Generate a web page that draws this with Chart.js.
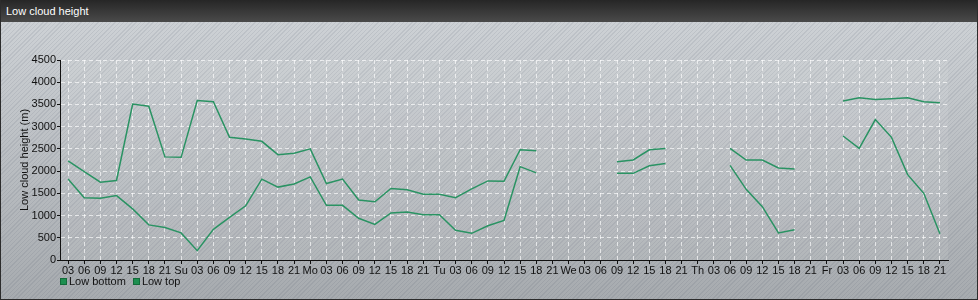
<!DOCTYPE html>
<html>
<head>
<meta charset="utf-8">
<script src="https://cdn.jsdelivr.net/npm/chart.js@4.4.1/dist/chart.umd.min.js"></script>
<style>
  html, body { margin: 0; padding: 0; }
  body { width: 978px; height: 300px; overflow: hidden; font-family: "Liberation Sans", Arial, sans-serif; }
  #frame {
    position: relative; width: 976px; height: 299px;
    border: 1px solid #2c2c2c; border-top: none;
    background:
      repeating-linear-gradient(135deg, rgba(60,70,90,0.10) 0 1px, rgba(0,0,0,0) 1px 3px),
      linear-gradient(#d0d4d8, #a7abaf);
  }
  #titlebar {
    position: absolute; left: 0; top: 0; width: 976px; height: 22px;
    background: linear-gradient(#262626, #4a4a4a);
    color: #fff; font-size: 11px; line-height: 22px; padding-left: 5px; box-sizing: border-box;
  }
  #wrap { position: absolute; left: -1px; top: 22px; width: 978px; height: 278px; }
  #legend { position: absolute; left: 59px; top: 275px; font-size: 11px; color: #111; }
  #legend span.item { margin-right: 7px; }
  #legend span.sw {
    display: inline-block; width: 5px; height: 5px; background: #1d8f50;
    border: 1px solid #136b3a; margin-right: 2px; vertical-align: 0px;
  }
</style>
</head>
<body>
<div id="frame">
  <div id="titlebar">Low cloud height</div>
  <div id="wrap"><canvas id="chartCloud" width="978" height="278"></canvas></div>
  <div id="legend"></div>
</div>
<script>
// three-hourly labels, Sat 03 .. Fri 21
const HOUR_LABELS = [
  "03","06","09","12","15","18","21",
  "Su","03","06","09","12","15","18","21",
  "Mo","03","06","09","12","15","18","21",
  "Tu","03","06","09","12","15","18","21",
  "We","03","06","09","12","15","18","21",
  "Th","03","06","09","12","15","18","21",
  "Fr","03","06","09","12","15","18","21"
];

const LOW_BOTTOM = [
  1820, 1400, 1390, 1450, 1150, 790, 730,
  610, 210, 690, 960, 1220, 1820, 1640, 1710,
  1870, 1230, 1230, 940, 800, 1060, 1080, 1020,
  1020, 670, 600, 770, 890, 2100, 1960, null,
  null, null, null, 1950, 1950, 2120, 2170, null,
  null, null, 2130, 1590, 1200, 610, 680, null,
  null, 2790, 2510, 3160, 2760, 1920, 1500, 590
];

const LOW_TOP = [
  2230, 1990, 1750, 1790, 3510, 3460, 2320,
  2310, 3590, 3560, 2760, 2720, 2670, 2370, 2400,
  2500, 1720, 1820, 1350, 1310, 1610, 1580, 1480,
  1480, 1400, 1600, 1780, 1770, 2480, 2460, null,
  null, null, null, 2210, 2250, 2480, 2510, null,
  null, null, 2510, 2250, 2250, 2070, 2050, null,
  null, 3580, 3650, 3610, 3630, 3650, 3560, 3540
];

const SERIES_NAMES = ["Low bottom", "Low top"];
const LINE_GREEN = "#2a9363";
const GRID_WHITE = "rgba(255,255,255,0.65)";
const FONT = "'Liberation Sans', Arial, sans-serif";

// lighter plot background
const plotShade = {
  id: "plotShade",
  beforeDraw(chart) {
    const a = chart.chartArea, c = chart.ctx;
    c.save();
    c.fillStyle = "rgba(255,255,255,0.08)";
    c.fillRect(a.left, a.top, a.right - a.left, a.bottom - a.top);
    c.restore();
  }
};

const ctx = document.getElementById("chartCloud");
new Chart(ctx, {
  type: "line",
  data: {
    labels: HOUR_LABELS,
    datasets: [
      { label: SERIES_NAMES[0], data: LOW_BOTTOM },
      { label: SERIES_NAMES[1], data: LOW_TOP },
    ].map(d => Object.assign(d, {
      borderColor: LINE_GREEN, borderWidth: 1.5, pointRadius: 0,
      tension: 0, spanGaps: false, fill: false
    }))
  },
  options: {
    responsive: false,
    animation: false,
    layout: { padding: { left: 0, right: 30, top: 38, bottom: 0 } },
    plugins: { legend: { display: false }, tooltip: { enabled: false } },
    scales: {
      x: {
        offset: true,
        afterFit: s => { s.height = 40; },
        grid: {
          offset: false, color: GRID_WHITE, lineWidth: 1,
          tickColor: "#111", tickLength: 4, tickBorderDash: []
        },
        border: { color: "#111", width: 1, dash: [4, 3] },
        ticks: {
          autoSkip: false, maxRotation: 0, padding: 0,
          color: "#111", font: { family: FONT, size: 11 }
        }
      },
      y: {
        min: 0, max: 4500,
        afterFit: s => { s.width = 60; },
        grid: {
          color: GRID_WHITE, lineWidth: 1,
          tickColor: "#111", tickLength: 3, tickBorderDash: []
        },
        border: { color: "#111", width: 1, dash: [4, 3] },
        ticks: {
          stepSize: 500, padding: 1,
          callback: v => String(v),
          color: "#111", font: { family: FONT, size: 11 }
        },
        title: {
          display: true, text: "Low cloud height (m)",
          color: "#111", font: { family: FONT, size: 11 },
          padding: { top: 18, bottom: 0 }
        }
      }
    }
  },
  plugins: [plotShade]
});

const legend = document.getElementById("legend");
SERIES_NAMES.forEach(n => {
  const s = document.createElement("span");
  s.className = "item";
  s.innerHTML = `<span class="sw"></span>${n}`;
  legend.appendChild(s);
});
</script>
</body>
</html>
